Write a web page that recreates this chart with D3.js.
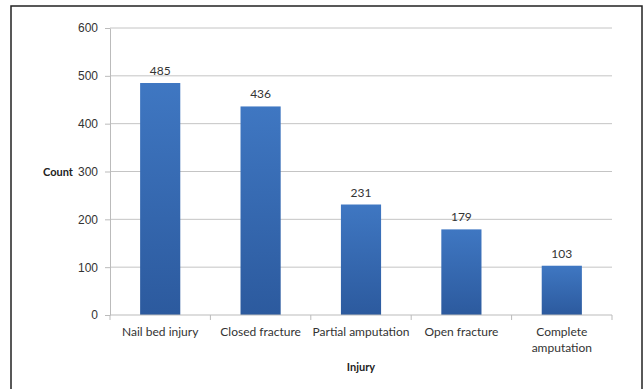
<!DOCTYPE html>
<html>
<head>
<meta charset="utf-8">
<script src="https://cdn.jsdelivr.net/npm/d3@7"></script>
<style>
  html, body { margin: 0; padding: 0; background: #fff; }
  svg { display: block; font-family: Lato, "Open Sans", sans-serif; }
</style>
</head>
<body>
<svg id="chart" width="644" height="389"></svg>
<script>
// Injury counts
const categories = ["Nail bed injury", "Closed fracture", "Partial amputation", "Open fracture", "Complete amputation"];
const counts = [485, 436, 231, 179, 103];
const yTicks = [0, 100, 200, 300, 400, 500, 600];

const svg = d3.select("#chart");
const W = 644, H = 389;
const plot = { left: 110, right: 612, top: 28, bottom: 315 };

// outer frame
svg.append("rect")
  .attr("x", 11).attr("y", 6)
  .attr("width", 631).attr("height", 400)
  .attr("fill", "#fff")
  .attr("stroke", "#222").attr("stroke-width", 1.5);

const x = d3.scaleBand().domain(categories).range([plot.left, plot.right]).paddingInner(0.6).paddingOuter(0.3);
const y = d3.scaleLinear().domain([0, 600]).range([plot.bottom, plot.top]);

// bar gradient
const defs = svg.append("defs");
const grad = defs.append("linearGradient").attr("id", "barGrad")
  .attr("x1", 0).attr("y1", 0).attr("x2", 0).attr("y2", 1);
grad.append("stop").attr("offset", "0%").attr("stop-color", "#3f77c2");
grad.append("stop").attr("offset", "100%").attr("stop-color", "#2c5a9e");

// gridlines
svg.append("g")
  .selectAll("line")
  .data(yTicks.filter(d => d > 0))
  .join("line")
  .attr("x1", plot.left).attr("x2", plot.right)
  .attr("y1", d => y(d)).attr("y2", d => y(d))
  .attr("stroke", "#c4c4c4").attr("stroke-width", 1);

// y axis
const yAxis = svg.append("g")
  .attr("transform", `translate(${plot.left},0)`)
  .call(d3.axisLeft(y).tickValues(yTicks).tickSize(5).tickPadding(7).tickSizeOuter(0));
yAxis.select(".domain").attr("stroke", "#bbb");
yAxis.selectAll(".tick line").attr("stroke", "#bbb");
yAxis.selectAll(".tick text").attr("font-size", 12).attr("fill", "#333");

// bars
svg.append("g")
  .selectAll("rect")
  .data(counts)
  .join("rect")
  .attr("x", (d, i) => x(categories[i]))
  .attr("width", x.bandwidth())
  .attr("y", d => y(d))
  .attr("height", d => y(0) - y(d))
  .attr("fill", "url(#barGrad)");

// value labels
svg.append("g")
  .selectAll("text")
  .data(counts)
  .join("text")
  .attr("x", (d, i) => x(categories[i]) + x.bandwidth() / 2)
  .attr("y", d => y(d) - 8)
  .attr("text-anchor", "middle")
  .attr("font-size", 12)
  .attr("fill", "#333")
  .text(d => d);

// x axis with band-edge ticks
const step = (plot.right - plot.left) / categories.length;
const xAxisG = svg.append("g");
xAxisG.append("line")
  .attr("x1", plot.left).attr("x2", plot.right)
  .attr("y1", plot.bottom).attr("y2", plot.bottom)
  .attr("stroke", "#bbb");
xAxisG.selectAll("line.tk")
  .data(d3.range(categories.length + 1))
  .join("line").attr("class", "tk")
  .attr("x1", i => plot.left + i * step).attr("x2", i => plot.left + i * step)
  .attr("y1", plot.bottom).attr("y2", plot.bottom + 5)
  .attr("stroke", "#bbb");

// category labels (wrap the long last one)
const labelLines = { "Complete amputation": ["Complete", "amputation"] };
xAxisG.selectAll("text.cat")
  .data(categories)
  .join("text").attr("class", "cat")
  .attr("x", d => x(d) + x.bandwidth() / 2)
  .attr("y", 336)
  .attr("text-anchor", "middle")
  .attr("font-size", 12)
  .attr("fill", "#333")
  .each(function(d) {
    const lines = labelLines[d] || [d];
    d3.select(this).selectAll("tspan").data(lines).join("tspan")
      .attr("x", x(d) + x.bandwidth() / 2)
      .attr("dy", (l, i) => i === 0 ? 0 : 16)
      .text(l => l);
  });

// axis titles
svg.append("text")
  .attr("x", 58).attr("y", 176)
  .attr("text-anchor", "middle")
  .attr("font-size", 11).attr("font-weight", "bold").attr("fill", "#222")
  .text("Count");
svg.append("text")
  .attr("x", 361).attr("y", 371)
  .attr("text-anchor", "middle")
  .attr("font-size", 11).attr("font-weight", "bold").attr("fill", "#222")
  .text("Injury");
</script>
</body>
</html>
